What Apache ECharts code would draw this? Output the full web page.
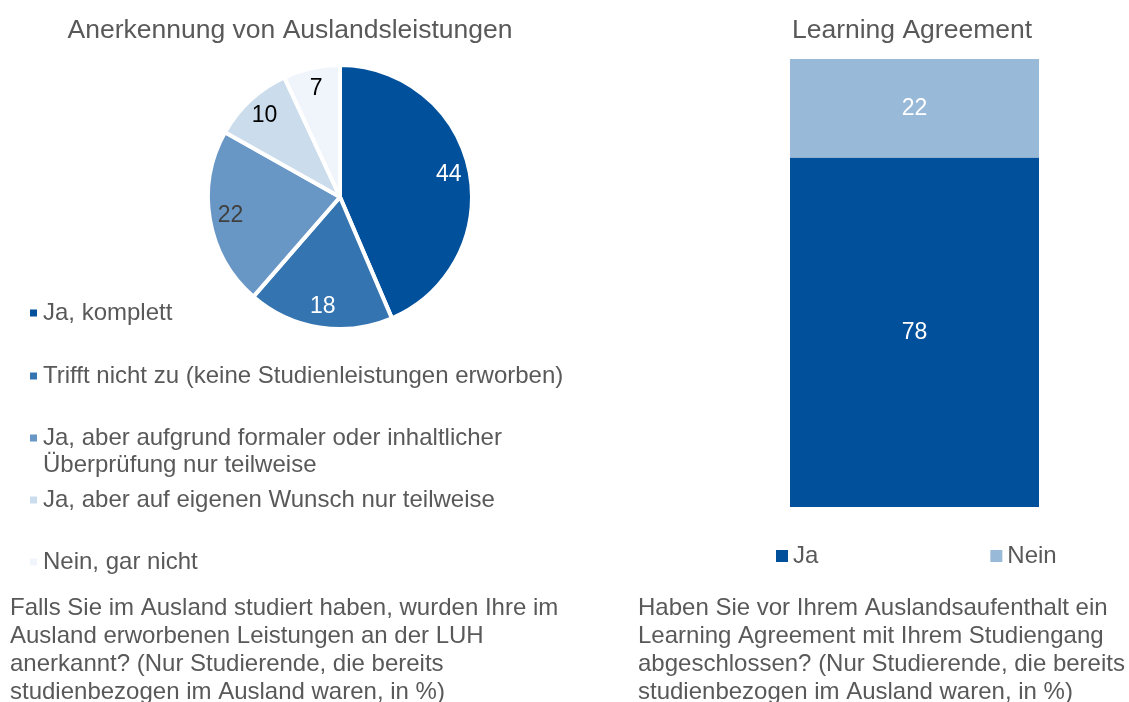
<!DOCTYPE html>
<html>
<head>
<meta charset="utf-8">
<script src="https://cdn.jsdelivr.net/npm/echarts@6/dist/echarts.min.js"></script>
<style>
  html, body { margin: 0; padding: 0; background: #fff; }
  #chart { width: 1129px; height: 702px; }
</style>
</head>
<body>
<div id="chart"></div>
<script>
// Anerkennung von Auslandsleistungen (pie)
const pieNames = [
  'Ja, komplett',
  'Trifft nicht zu (keine Studienleistungen erworben)',
  'Ja, aber aufgrund formaler oder inhaltlicher',
  'Ja, aber auf eigenen Wunsch nur teilweise',
  'Nein, gar nicht'
]
const pieValues = [44, 18, 22, 10, 7]
const pieColors = ['#00509b', '#3474b0', '#6897c6', '#cbdcec', '#f0f5fb']
const pieLabelColors = ['#fff', '#fff', '#404040', '#000', '#000']

// Learning Agreement (stacked bar)
const barCategory = ['Learning Agreement']
const barJa = [78]
const barNein = [22]

const font = '"Liberation Sans", Arial, sans-serif'
const textColor = '#595959'

const chart = echarts.init(document.getElementById('chart'))

// legend rows on the left, one per slice
const legendTops = [296, 359, 421, 483, 545]
const pieLegends = pieNames.map((name, i) => ({
  data: [name],
  left: 23,
  top: legendTops[i],
  orient: 'vertical',
  icon: 'rect',
  itemWidth: 9,
  itemHeight: 9,
  itemGap: 0,
  selectedMode: false,
  textStyle: { fontFamily: font, fontSize: 24, color: textColor, lineHeight: 24 }
}))

const option = {
  animation: false,
  title: [
    {
      text: 'Anerkennung von Auslandsleistungen',
      left: 285, top: 12, textAlign: 'center',
      textStyle: { fontFamily: font, fontSize: 26.5, fontWeight: 'normal', color: textColor }
    },
    {
      text: 'Learning Agreement',
      left: 907, top: 12, textAlign: 'center',
      textStyle: { fontFamily: font, fontSize: 26.5, fontWeight: 'normal', color: textColor }
    }
  ],
  legend: pieLegends.concat([{
    data: ['Ja', 'Nein'],
    left: 771,
    top: 539,
    icon: 'rect',
    itemWidth: 12,
    itemHeight: 12,
    itemGap: 172,
    selectedMode: false,
    textStyle: { fontFamily: font, fontSize: 24, color: textColor, lineHeight: 24 }
  }]),
  grid: { left: 790, width: 249, top: 59, height: 448 },
  xAxis: { type: 'category', data: barCategory, show: false },
  yAxis: { type: 'value', min: 0, max: 100, show: false },
  graphic: [
    {
      type: 'text', left: 43, top: 453,
      style: { text: 'Überprüfung nur teilweise', font: '24px ' + font, fill: textColor }
    },
    {
      type: 'text', left: 10, top: 595,
      style: {
        text: 'Falls Sie im Ausland studiert haben, wurden Ihre im\nAusland erworbenen Leistungen an der LUH\nanerkannt? (Nur Studierende, die bereits\nstudienbezogen im Ausland waren, in %)',
        font: '24px ' + font, lineHeight: 27.7, fill: textColor
      }
    },
    {
      type: 'text', left: 638, top: 595,
      style: {
        text: 'Haben Sie vor Ihrem Auslandsaufenthalt ein\nLearning Agreement mit Ihrem Studiengang\nabgeschlossen? (Nur Studierende, die bereits\nstudienbezogen im Ausland waren, in %)',
        font: '24px ' + font, lineHeight: 27.7, fill: textColor
      }
    }
  ],
  series: [
    {
      type: 'pie',
      center: [340, 197],
      radius: 132,
      startAngle: 90,
      clockwise: true,
      label: { show: false },
      labelLine: { show: false },
      itemStyle: { borderColor: '#fff', borderWidth: 4 },
      emphasis: { disabled: true },
      data: pieNames.map((name, i) => ({
        name: name, value: pieValues[i], itemStyle: { color: pieColors[i] }
      }))
    },
    {
      // transparent ring only carries the labels further out
      type: 'pie',
      center: [340, 197],
      radius: [84, 132],
      startAngle: 90,
      clockwise: true,
      silent: true,
      labelLine: { show: false },
      itemStyle: { color: 'transparent', borderWidth: 0 },
      data: pieNames.map((name, i) => ({
        name: name + ' ',
        value: pieValues[i],
        label: {
          show: true, position: 'inside', formatter: '{c}',
          fontFamily: font, fontSize: 23, color: pieLabelColors[i]
        }
      }))
    },
    {
      name: 'Ja',
      type: 'bar',
      stack: 'la',
      barWidth: '100%',
      data: barJa,
      itemStyle: { color: '#00509b' },
      label: { show: true, position: 'inside', fontFamily: font, fontSize: 23, color: '#fff' }
    },
    {
      name: 'Nein',
      type: 'bar',
      stack: 'la',
      barWidth: '100%',
      data: barNein,
      itemStyle: { color: '#99b9d9' },
      label: { show: true, position: 'inside', fontFamily: font, fontSize: 23, color: '#fff' }
    }
  ]
}

chart.setOption(option)
</script>
</body>
</html>
